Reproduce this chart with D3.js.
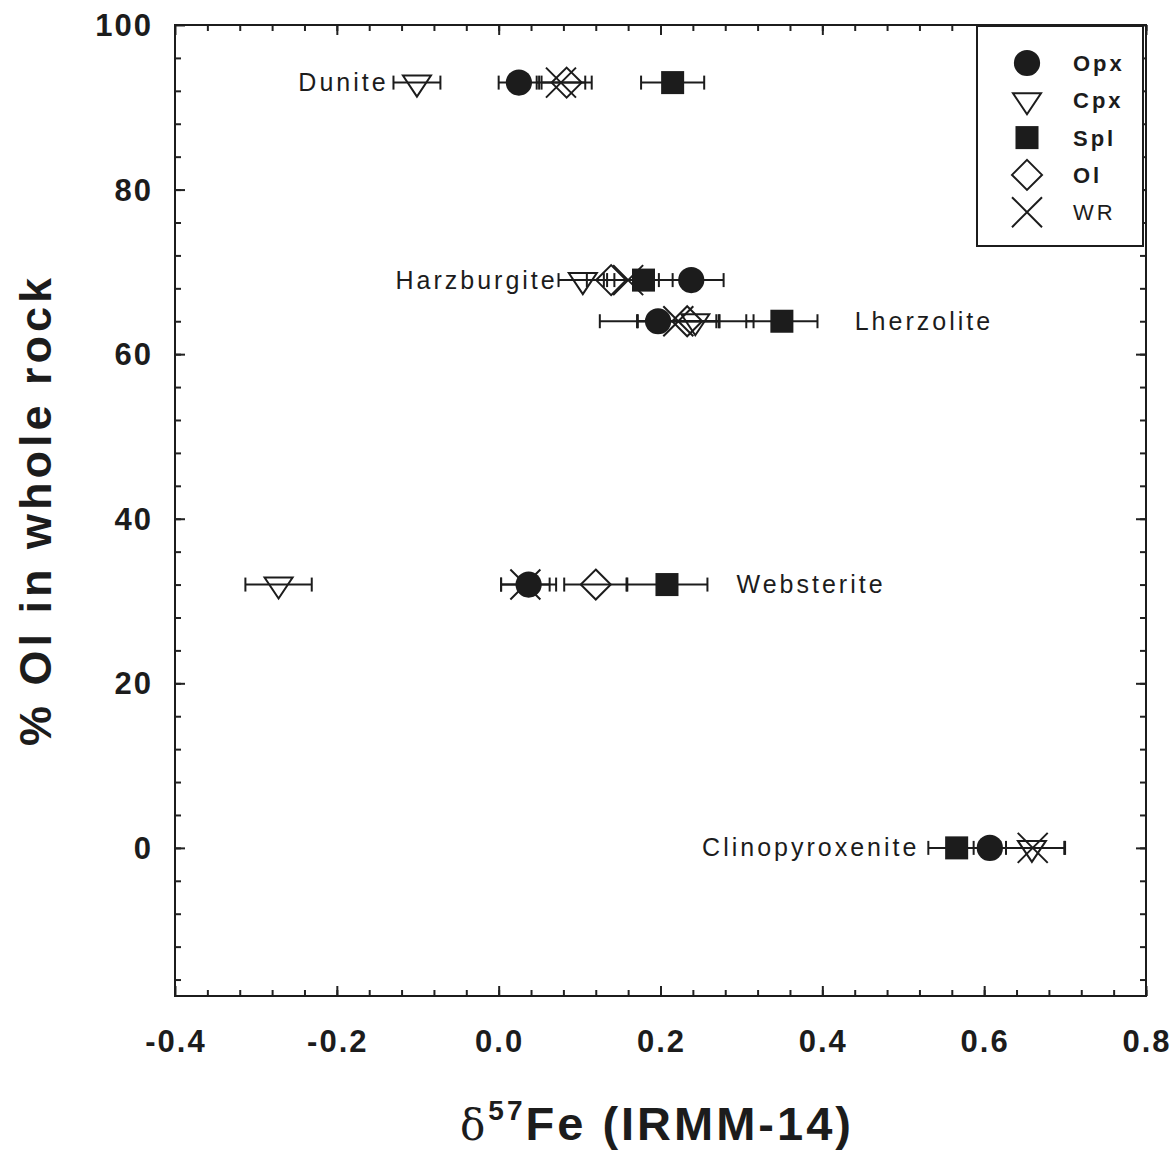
<!DOCTYPE html>
<html>
<head>
<meta charset="utf-8">
<script src="https://cdn.jsdelivr.net/npm/d3@7"></script>
<style>
  body { margin: 0; background: #fff; }
  svg { display: block; font-family: "Liberation Sans", Arial, sans-serif; }
  .axis path { display: none; }
  .axis line { stroke: #222; stroke-width: 2; }
</style>
</head>
<body>
<svg id="chart" width="1176" height="1151"></svg>
<script>
// rock types and their olivine content
const rocks = ['Dunite', 'Harzburgite', 'Lherzolite', 'Websterite', 'Clinopyroxenite'];
const olPercent = [93, 69, 64, 32, 0];
const labelX = [-0.136, 0.073, 0.44, 0.294, 0.52];
const labelSide = ['end', 'end', 'start', 'start', 'end'];

// d57Fe by mineral (null = not present)
const minerals = ['Opx', 'Cpx', 'Spl', 'Ol', 'WR'];
const opx    = [0.025, 0.238, 0.197, 0.037, 0.607];
const opxErr = [0.025, 0.040, 0.072, 0.034, 0.020];
const cpx    = [-0.101, 0.104, 0.243, -0.272, 0.659];
const cpxErr = [0.029, 0.030, 0.072, 0.041, 0.040];
const spl    = [0.215, 0.179, 0.350, 0.208, 0.566];
const splErr = [0.039, 0.036, 0.044, 0.050, 0.035];
const ol     = [0.084, 0.139, 0.233, 0.120, null];
const olErr  = [0.031, 0.030, 0.040, 0.039, null];
const wr     = [0.077, 0.160, 0.222, 0.033, 0.660];
const wrErr  = [0.030, 0.030, 0.050, 0.030, 0.040];

const xTicks = [-0.4, -0.2, 0.0, 0.2, 0.4, 0.6, 0.8];
const yTicks = [0, 20, 40, 60, 80, 100];

const ink = '#1c1c1c';
const svg = d3.select('#chart');
const pLeft = 175, pRight = 1146, pTop = 25, pBottom = 996;

const x = d3.scaleLinear().domain([-0.4, 0.8]).range([pLeft, pRight]);
const y = d3.scaleLinear().domain([-18, 100]).range([pBottom, pTop]);

const xMinor = d3.range(-0.36, 0.8, 0.04).map(v => +v.toFixed(2));
const yMinor = d3.range(-16, 100, 4);

// ticks, all pointing inward
function tickAxis(axis, transform, values, size) {
  svg.append('g')
    .attr('class', 'axis')
    .attr('transform', transform)
    .call(axis.tickValues(values).tickSize(size).tickFormat(''));
}
tickAxis(d3.axisBottom(x), `translate(0,${pBottom})`, xMinor, -6);
tickAxis(d3.axisBottom(x), `translate(0,${pBottom})`, xTicks, -10);
tickAxis(d3.axisTop(x), `translate(0,${pTop})`, xMinor, -6);
tickAxis(d3.axisTop(x), `translate(0,${pTop})`, xTicks, -10);
tickAxis(d3.axisLeft(y), `translate(${pLeft},0)`, yMinor, -6);
tickAxis(d3.axisLeft(y), `translate(${pLeft},0)`, yTicks, -10);
tickAxis(d3.axisRight(y), `translate(${pRight},0)`, yMinor, -6);
tickAxis(d3.axisRight(y), `translate(${pRight},0)`, yTicks, -10);

svg.append('rect')
  .attr('x', pLeft).attr('y', pTop)
  .attr('width', pRight - pLeft).attr('height', pBottom - pTop)
  .attr('fill', 'none').attr('stroke', ink).attr('stroke-width', 2);

// tick labels (plain hyphen for negatives, like the original)
svg.append('g').selectAll('text')
  .data(xTicks).join('text')
  .attr('x', d => x(d) + 1)
  .attr('y', 1052)
  .attr('text-anchor', 'middle')
  .attr('font-size', 31).attr('font-weight', 'bold')
  .attr('letter-spacing', 2).attr('fill', ink)
  .text(d => d.toFixed(1));

svg.append('g').selectAll('text')
  .data(yTicks).join('text')
  .attr('x', 153)
  .attr('y', d => y(d))
  .attr('dy', '0.36em')
  .attr('text-anchor', 'end')
  .attr('font-size', 31).attr('font-weight', 'bold')
  .attr('letter-spacing', 2).attr('fill', ink)
  .text(d => d);

// axis titles
const xt = svg.append('text')
  .attr('x', 657).attr('y', 1140)
  .attr('text-anchor', 'middle')
  .attr('font-size', 47).attr('font-weight', 'bold')
  .attr('letter-spacing', 3).attr('fill', ink);
xt.append('tspan').attr('font-weight', 'normal').attr('font-size', 42).attr('font-family', '"DejaVu Serif", serif').text('δ');
xt.append('tspan').attr('font-size', 28).attr('dy', -20).text('57');
xt.append('tspan').attr('dy', 20).text('Fe (IRMM-14)');

svg.append('text')
  .attr('transform', 'translate(51,510) rotate(-90)')
  .attr('text-anchor', 'middle')
  .attr('font-size', 45).attr('font-weight', 'bold')
  .attr('letter-spacing', 4).attr('fill', ink)
  .text('% Ol in whole rock');

// marker shapes
const shapes = {
  Opx: d3.symbol(d3.symbolCircle, 540)(),
  Cpx: 'M-14,-7L14,-7L0,14Z',
  Spl: d3.symbol(d3.symbolSquare, 530)(),
  Ol: 'M0,-15L15,0L0,15L-15,0Z',
  WR: 'M-15,-15L15,15M-15,15L15,-15'
};
const filled = { Opx: true, Spl: true };

const series = {
  Opx: [opx, opxErr], Cpx: [cpx, cpxErr], Spl: [spl, splErr],
  Ol: [ol, olErr], WR: [wr, wrErr]
};

const points = [];
minerals.forEach(m => {
  const [vals, errs] = series[m];
  vals.forEach((v, i) => {
    if (v !== null) points.push({ m, v, e: errs[i], pct: olPercent[i] });
  });
});

// error bars underneath everything
const eb = svg.append('g').attr('stroke', ink).attr('stroke-width', 2);
points.forEach(p => {
  const cy = y(p.pct), x0 = x(p.v - p.e), x1 = x(p.v + p.e);
  eb.append('line').attr('x1', x0).attr('x2', x1).attr('y1', cy).attr('y2', cy);
  eb.append('line').attr('x1', x0).attr('x2', x0).attr('y1', cy - 7).attr('y2', cy + 7);
  eb.append('line').attr('x1', x1).attr('x2', x1).attr('y1', cy - 7).attr('y2', cy + 7);
});

// open symbols first, filled ones on top
const drawOrder = ['WR', 'Ol', 'Cpx', 'Spl', 'Opx'];
const mk = svg.append('g');
drawOrder.forEach(m => {
  mk.selectAll(null)
    .data(points.filter(p => p.m === m))
    .join('path')
    .attr('transform', p => `translate(${x(p.v)},${y(p.pct)})`)
    .attr('d', shapes[m])
    .attr('fill', filled[m] ? ink : 'none')
    .attr('stroke', ink)
    .attr('stroke-width', filled[m] ? 0 : 2);
});

// rock labels
svg.append('g').selectAll('text')
  .data(rocks).join('text')
  .attr('x', (d, i) => x(labelX[i]))
  .attr('y', (d, i) => y(olPercent[i]))
  .attr('dy', '0.34em')
  .attr('text-anchor', (d, i) => labelSide[i])
  .attr('font-size', 25).attr('letter-spacing', 3).attr('fill', ink)
  .text(d => d);

// legend
const lg = svg.append('g');
lg.append('rect')
  .attr('x', 977).attr('y', 26).attr('width', 166).attr('height', 220)
  .attr('fill', '#fff').attr('stroke', ink).attr('stroke-width', 2);
minerals.forEach((m, i) => {
  const ly = 63 + i * 37.3;
  lg.append('path')
    .attr('transform', `translate(1027,${ly})`)
    .attr('d', shapes[m])
    .attr('fill', filled[m] ? ink : 'none')
    .attr('stroke', ink)
    .attr('stroke-width', filled[m] ? 0 : 2);
  lg.append('text')
    .attr('x', 1073).attr('y', ly).attr('dy', '0.36em')
    .attr('font-size', 22)
    .attr('font-weight', m === 'WR' ? 'normal' : 'bold')
    .attr('letter-spacing', 3).attr('fill', ink)
    .text(m);
});
</script>
</body>
</html>
